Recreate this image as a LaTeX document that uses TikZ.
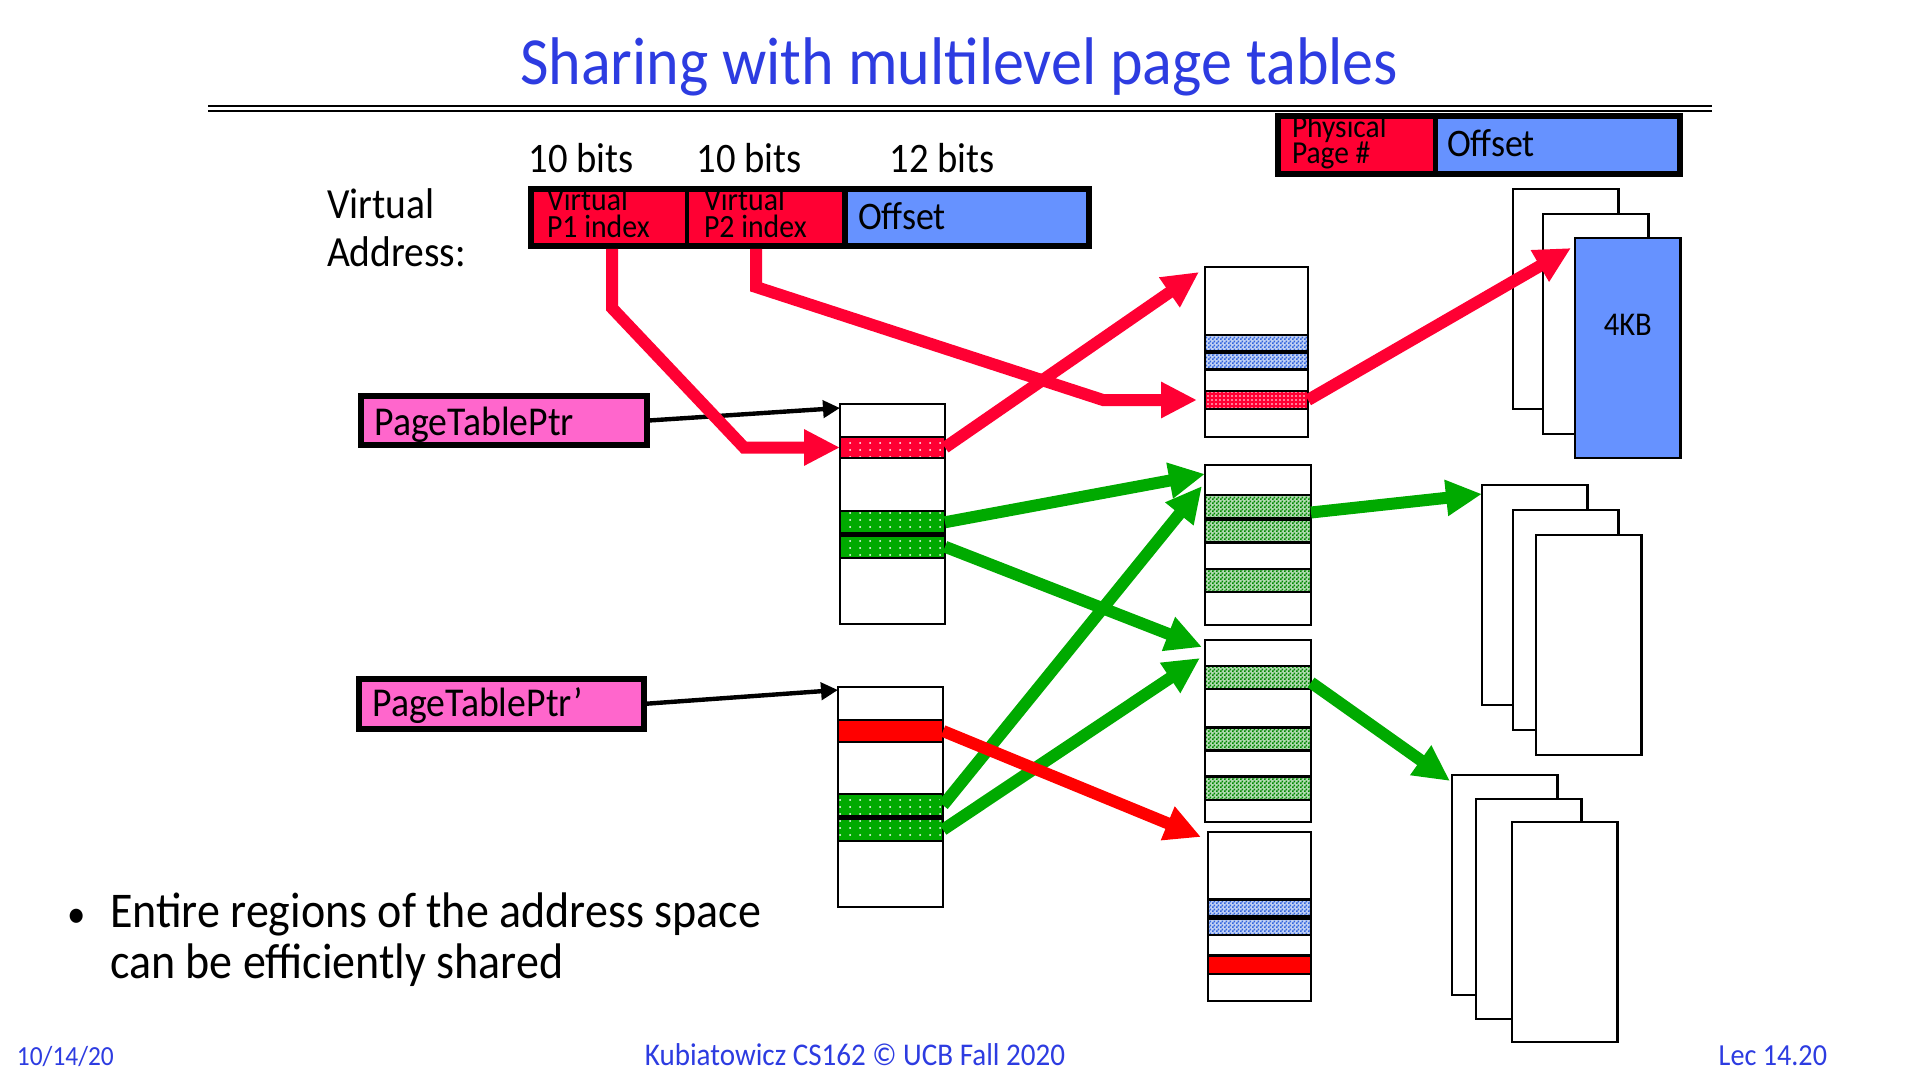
\documentclass[tikz,border=0pt]{standalone}
\usepackage{fontspec}
\setmainfont{Carlito}[FakeStretch=0.92]
\usetikzlibrary{arrows.meta, patterns}
\definecolor{titleblue}{RGB}{45,60,225}
\definecolor{addrred}{RGB}{255,0,51}
\definecolor{offblue}{RGB}{102,146,255}
\definecolor{ptrpink}{RGB}{255,102,204}
\definecolor{linkgreen}{RGB}{0,170,0}
\definecolor{rowgreen}{RGB}{0,135,0}
\definecolor{rowblue}{RGB}{50,100,220}
\pgfdeclarepatternformonly{finechecker}{\pgfpointorigin}{\pgfqpoint{2pt}{2pt}}{\pgfqpoint{2pt}{2pt}}{%
  \pgfpathrectangle{\pgfpointorigin}{\pgfqpoint{1pt}{1pt}}%
  \pgfpathrectangle{\pgfqpoint{1pt}{1pt}}{\pgfqpoint{1pt}{1pt}}%
  \pgfusepath{fill}}
\pgfdeclarepatternformonly{whitedots}{\pgfqpoint{-1pt}{-1pt}}{\pgfqpoint{1pt}{1pt}}{\pgfqpoint{5pt}{3.5pt}}{%
  \pgfpathcircle{\pgfpointorigin}{0.5pt}\pgfusepath{fill}}
\pgfdeclarepatternformonly{densedots}{\pgfqpoint{-1pt}{-1pt}}{\pgfqpoint{1pt}{1pt}}{\pgfqpoint{2pt}{2pt}}{%
  \pgfpathcircle{\pgfpointorigin}{0.45pt}\pgfusepath{fill}}
\tikzset{
  slidetext/.style={inner sep=0pt, outer sep=0pt},
  cell/.style={anchor=north west, inner sep=0pt, outer sep=0pt},
  ptrbox/.style={cell, draw=black, line width=3pt, fill=ptrpink},
  ptable/.style={cell, draw=black, line width=1.1pt, fill=white},
  dotrow/.style={ptable, preaction={fill=#1}, pattern=whitedots, pattern color=white},
  densrow/.style={ptable, preaction={fill=#1}, pattern=densedots, pattern color=white},
  chkrow/.style={ptable, preaction={fill=#1!30}, pattern=finechecker, pattern color=#1},
  fullrow/.style={ptable, fill=#1},
  page/.style={cell, draw=black, line width=1.1pt, fill=white, minimum width=52.75pt, minimum height=110pt},
  redlink/.style={line width=6pt, addrred, -{Triangle[length=18pt,width=17pt]}},
  greenlink/.style={line width=6pt, linkgreen, -{Triangle[length=18pt,width=17pt]}},
  ptrlink/.style={line width=2.2pt, black, -{Triangle[length=8.5pt,width=8.5pt]}},
}
\begin{document}
\begin{tikzpicture}[x=0.5pt, y=-0.5pt]
  \useasboundingbox (0,0) rectangle (1920,1080);
  \fill[white] (0,0) rectangle (1920,1080);

  % title
  \node[slidetext, anchor=base, text=titleblue, font=\fontsize{33.7}{40}\selectfont] (title) at (959,85) {Sharing with multilevel page tables};
  \draw[line width=1.3pt] (208,106) -- (1712,106);
  \draw[line width=1pt] (208,111) -- (1712,111);

  % virtual address
  \node[slidetext, anchor=base west, font=\fontsize{21.5}{24}\selectfont] (valabel) at (327,219) {Virtual};
  \node[slidetext, anchor=base west, font=\fontsize{21.5}{24}\selectfont] (valabelb) at (327,267) {Address:};
  \node[slidetext, anchor=base, font=\fontsize{21}{24}\selectfont] (bitsa) at (581,173) {10 bits};
  \node[slidetext, anchor=base, font=\fontsize{21}{24}\selectfont] (bitsb) at (749,173) {10 bits};
  \node[slidetext, anchor=base, font=\fontsize{21}{24}\selectfont] (bitsc) at (942,173) {12 bits};
  \node[cell, fill=addrred, minimum width=78pt, minimum height=28.5pt] (vap1) at (531,189) {};
  \node[cell, fill=addrred, minimum width=79pt, minimum height=28.5pt] (vap2) at (687,189) {};
  \node[cell, fill=offblue, minimum width=122pt, minimum height=28.5pt] (vaoff) at (845,189) {};
  \node[slidetext, anchor=base west, font=\fontsize{16.2}{14}\selectfont] (vap1a) at (547,211) {Virtual};
  \node[slidetext, anchor=base west, font=\fontsize{16.2}{14}\selectfont] (vap1b) at (547,238) {P1 index};
  \node[slidetext, anchor=base west, font=\fontsize{16.2}{14}\selectfont] (vap2a) at (704,211) {Virtual};
  \node[slidetext, anchor=base west, font=\fontsize{16.2}{14}\selectfont] (vap2b) at (704,238) {P2 index};
  \node[slidetext, anchor=base west, font=\fontsize{19.5}{22}\selectfont] (vaofft) at (858,230) {Offset};
  \draw[line width=3pt] (vap1.north west) rectangle (vaoff.south east);
  \draw[line width=2.2pt] (vap1.north east) -- (vap1.south east);
  \draw[line width=2.6pt] (vap2.north east) -- (vap2.south east);

  % physical address
  \node[cell, fill=addrred, minimum width=78.75pt, minimum height=29.15pt] (papage) at (1278,115.7) {};
  \node[cell, fill=offblue, minimum width=122.25pt, minimum height=29.15pt] (paoff) at (1435.5,115.7) {};
  \node[slidetext, anchor=base west, font=\fontsize{16}{14}\selectfont] (papagea) at (1292,138) {Physical};
  \node[slidetext, anchor=base west, font=\fontsize{16}{14}\selectfont] (papageb) at (1292,164) {Page \#};
  \node[slidetext, anchor=base west, font=\fontsize{19.5}{22}\selectfont] (paofft) at (1447,157) {Offset};
  \draw[line width=3pt] (papage.north west) rectangle (paoff.south east);
  \draw[line width=2.5pt] (papage.north east) -- (papage.south east);

  % page table pointers
  \node[ptrbox, minimum width=142.75pt, minimum height=24.65pt] (ptp) at (361,396) {};
  \node[slidetext, anchor=base west, font=\fontsize{20.5}{24}\selectfont] (ptpt) at (374.7,435) {PageTablePtr};
  \node[ptrbox, minimum width=142.7pt, minimum height=24.85pt] (ptpb) at (359,679) {};
  \node[slidetext, anchor=base west, font=\fontsize{20.5}{24}\selectfont] (ptpbt) at (372.6,716.7) {PageTablePtr’};

  % first level tables
  \node[ptable, minimum width=52.5pt, minimum height=110pt] (t1a) at (840,404) {};
  \node[dotrow=addrred, minimum width=52.5pt, minimum height=10.5pt] (t1a-p1) at (840,437) {};
  \node[dotrow=linkgreen, minimum width=52.5pt, minimum height=11.25pt] (t1a-g1) at (840,511) {};
  \node[dotrow=linkgreen, minimum width=52.5pt, minimum height=11.25pt] (t1a-g2) at (840,535.5) {};
  \node[ptable, minimum width=52.5pt, minimum height=110pt] (t1b) at (838,687) {};
  \node[fullrow=red, minimum width=52.5pt, minimum height=11pt] (t1b-r) at (838,720) {};
  \node[dotrow=linkgreen, minimum width=52.5pt, minimum height=11.25pt] (t1b-g1) at (838,794) {};
  \node[dotrow=linkgreen, minimum width=52.5pt, minimum height=11.25pt] (t1b-g2) at (838,818.5) {};

  % second level tables
  \node[ptable, minimum width=51.5pt, minimum height=85pt] (t2a) at (1205,267) {};
  \node[chkrow=rowblue, minimum width=51.5pt, minimum height=8pt] (t2a-b1) at (1205,335) {};
  \node[chkrow=rowblue, minimum width=51.5pt, minimum height=8.25pt] (t2a-b2) at (1205,353) {};
  \node[densrow=addrred, minimum width=51.5pt, minimum height=9pt] (t2a-r) at (1205,391) {};
  \node[ptable, minimum width=53pt, minimum height=80pt] (t2b) at (1205,465) {};
  \node[chkrow=rowgreen, minimum width=53pt, minimum height=11.5pt] (t2b-g1) at (1205,495) {};
  \node[chkrow=rowgreen, minimum width=53pt, minimum height=11.25pt] (t2b-g2) at (1205,520) {};
  \node[chkrow=rowgreen, minimum width=53pt, minimum height=11.5pt] (t2b-g3) at (1205,569) {};
  \node[ptable, minimum width=53pt, minimum height=91pt] (t2c) at (1205,640) {};
  \node[chkrow=rowgreen, minimum width=53pt, minimum height=11.5pt] (t2c-g1) at (1205,666) {};
  \node[chkrow=rowgreen, minimum width=53pt, minimum height=11.5pt] (t2c-g2) at (1205,727.5) {};
  \node[chkrow=rowgreen, minimum width=53pt, minimum height=11.75pt] (t2c-g3) at (1205,776.5) {};
  \node[ptable, minimum width=51.5pt, minimum height=84.5pt] (t2d) at (1208,832) {};
  \node[chkrow=rowblue, minimum width=51.5pt, minimum height=8.5pt] (t2d-b1) at (1208,899.5) {};
  \node[chkrow=rowblue, minimum width=51.5pt, minimum height=8.25pt] (t2d-b2) at (1208,918.5) {};
  \node[fullrow=red, minimum width=51.5pt, minimum height=9.25pt] (t2d-r) at (1208,955.5) {};

  % physical pages
  \node[page] (s1a) at (1513,189) {};
  \node[page] (s1b) at (1543,214) {};
  \node[page, fill=offblue] (s1c) at (1575,238) {};
  \node[slidetext, font=\fontsize{16.6}{20}\selectfont] (kb) at ([yshift=11.75pt]s1c.center) {4KB};
  \node[page] (s2a) at (1482,485) {};
  \node[page] (s2b) at (1513,510) {};
  \node[page] (s2c) at (1536,535) {};
  \node[page] (s3a) at (1452,775) {};
  \node[page] (s3b) at (1476,799) {};
  \node[page] (s3c) at (1512,822) {};

  % links
  \draw[ptrlink] (ptp.east) -- ([yshift=-2pt]t1a.north west);
  \draw[ptrlink] (ptpb.east) -- ([yshift=-1.5pt]t1b.north west);
  \draw[greenlink] (t1a-g1.east) -- ([yshift=-4.5pt]t2b.north west);
  \draw[greenlink] (t1a-g2.east) -- ([shift={(-1.5pt,-3.5pt)}]t2c.north west);
  \draw[greenlink] (t1b-g1.east) -- ([shift={(-1.5pt,-10.5pt)}]t2b.north west);
  \draw[greenlink] (t1b-g2.east) -- ([shift={(-2.5pt,-9pt)}]t2c.north west);
  \draw[greenlink] ([yshift=-3pt]t2b-g1.east) -- ([yshift=-4.5pt]s2a.north west);
  \draw[greenlink] ([yshift=-2.5pt]t2c-g1.east) -- ([shift={(-1pt,-3pt)}]s3a.north west);
  \draw[redlink] ([xshift=1.5pt,yshift=-1.5pt]vap1.south) -- ++(0,59) -- ([xshift=-48pt]t1a-p1.west) -- (t1a-p1.west);
  \draw[redlink] ([xshift=-5pt,yshift=-1.5pt]vap2.south) -- ++(0,38) -- ([xshift=-51pt]t2a-r.west) -- ([xshift=-4pt]t2a-r.west);
  \draw[redlink] (t1a-p1.east) -- ([shift={(-3pt,-2.5pt)}]t2a.north west);
  \draw[redlink] (t2a-r.east) -- ([shift={(-2pt,-5pt)}]s1c.north west);
  \draw[redlink, red] (t1b-r.east) -- ([shift={(-3.5pt,-2.5pt)}]t2d.north west);

  % bullet
  \node[slidetext, anchor=base west, font=\fontsize{20}{24}\selectfont] (bul) at (67,927) {\textbullet};
  \node[slidetext, anchor=base west, font=\fontsize{25}{30}\selectfont] (bula) at (110,927) {Entire regions of the address space};
  \node[slidetext, anchor=base west, font=\fontsize{25}{30}\selectfont] (bulb) at (110,978) {can be efficiently shared};

  % footer
  \node[slidetext, anchor=base west, text=titleblue, font=\fontsize{13.8}{17}\selectfont] (fdate) at (17,1065) {10/14/20};
  \node[slidetext, anchor=base, text=titleblue, font=\fontsize{15.8}{18}\selectfont] (fcourse) at (855,1065) {Kubiatowicz CS162 \textcopyright{} UCB Fall 2020};
  \node[slidetext, anchor=base east, text=titleblue, font=\fontsize{15.3}{18}\selectfont] (flec) at (1827,1065) {Lec 14.20};
\end{tikzpicture}
\end{document}
